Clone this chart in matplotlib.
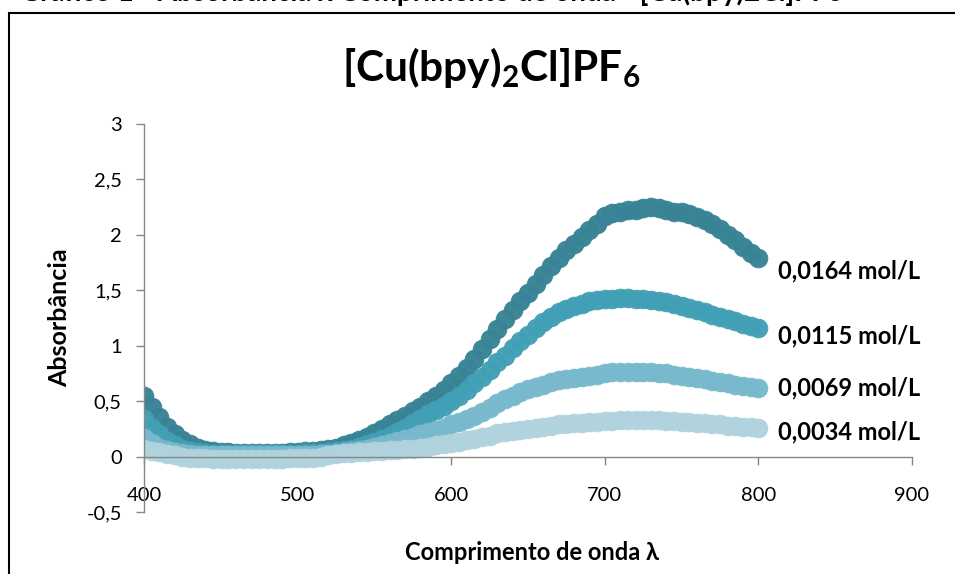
import matplotlib
matplotlib.use("Agg")
import matplotlib.pyplot as plt
from matplotlib.patches import Rectangle

plt.rcParams['font.family'] = ['Lato', 'DejaVu Sans']
plt.rcParams['mathtext.fontset'] = 'custom'
plt.rcParams['mathtext.rm'] = 'Lato'
plt.rcParams['mathtext.bf'] = 'Lato:bold'

# comprimento de onda (nm)
wavelength = [400, 405, 410, 415, 420, 425, 430, 435, 440, 445,
              450, 455, 460, 465, 470, 475, 480, 485, 490, 495,
              500, 505, 510, 515, 520, 525, 530, 535, 540, 545,
              550, 555, 560, 565, 570, 575, 580, 585, 590, 595,
              600, 605, 610, 615, 620, 625, 630, 635, 640, 645,
              650, 655, 660, 665, 670, 675, 680, 685, 690, 695,
              700, 705, 710, 715, 720, 725, 730, 735, 740, 745,
              750, 755, 760, 765, 770, 775, 780, 785, 790, 795, 800]

abs_0164 = [0.55, 0.45, 0.36, 0.27, 0.20, 0.15, 0.11, 0.08, 0.06, 0.05,
            0.04, 0.04, 0.03, 0.03, 0.03, 0.03, 0.03, 0.03, 0.03, 0.04,
            0.04, 0.05, 0.05, 0.06, 0.07, 0.08, 0.10, 0.12, 0.15, 0.18,
            0.21, 0.25, 0.29, 0.33, 0.37, 0.41, 0.45, 0.50, 0.55, 0.60,
            0.66, 0.73, 0.80, 0.88, 0.97, 1.06, 1.15, 1.24, 1.32, 1.40,
            1.48, 1.56, 1.64, 1.72, 1.79, 1.86, 1.92, 1.98, 2.04, 2.10,
            2.17, 2.20, 2.21, 2.22, 2.22, 2.24, 2.25, 2.24, 2.22, 2.21,
            2.21, 2.19, 2.16, 2.13, 2.10, 2.05, 2.00, 1.95, 1.89, 1.84, 1.79]

abs_0115 = [0.34, 0.26, 0.20, 0.14, 0.10, 0.07, 0.05, 0.04, 0.03, 0.02,
            0.02, 0.02, 0.02, 0.02, 0.02, 0.02, 0.02, 0.02, 0.02, 0.02,
            0.02, 0.03, 0.03, 0.03, 0.04, 0.05, 0.06, 0.07, 0.09, 0.11,
            0.13, 0.16, 0.19, 0.22, 0.26, 0.30, 0.34, 0.38, 0.42, 0.46,
            0.50, 0.55, 0.60, 0.66, 0.72, 0.78, 0.85, 0.91, 0.98, 1.04,
            1.10, 1.16, 1.21, 1.26, 1.30, 1.33, 1.36, 1.38, 1.40, 1.41,
            1.42, 1.42, 1.43, 1.43, 1.42, 1.42, 1.41, 1.40, 1.39, 1.38,
            1.36, 1.34, 1.32, 1.30, 1.28, 1.26, 1.24, 1.22, 1.20, 1.18, 1.16]

abs_0069 = [0.17, 0.12, 0.08, 0.06, 0.04, 0.03, 0.02, 0.01, 0.01, 0.01,
            0.01, 0.01, 0.01, 0.01, 0.01, 0.01, 0.01, 0.01, 0.01, 0.01,
            0.01, 0.01, 0.01, 0.02, 0.02, 0.03, 0.04, 0.05, 0.06, 0.07,
            0.09, 0.10, 0.12, 0.14, 0.16, 0.18, 0.20, 0.22, 0.24, 0.26,
            0.29, 0.31, 0.34, 0.37, 0.40, 0.44, 0.48, 0.52, 0.55, 0.58,
            0.61, 0.63, 0.65, 0.67, 0.69, 0.70, 0.71, 0.72, 0.73, 0.74,
            0.75, 0.76, 0.76, 0.76, 0.76, 0.76, 0.76, 0.75, 0.75, 0.74,
            0.73, 0.72, 0.71, 0.70, 0.68, 0.67, 0.66, 0.65, 0.64, 0.63, 0.62]

abs_0034 = [0.07, 0.05, 0.04, 0.02, 0.01, 0.00, -0.01, -0.01, -0.01, -0.02,
            -0.02, -0.02, -0.02, -0.02, -0.02, -0.02, -0.02, -0.02, -0.02, -0.01,
            -0.01, -0.01, -0.01, 0.00, 0.01, 0.02, 0.03, 0.03, 0.04, 0.04,
            0.05, 0.05, 0.06, 0.06, 0.07, 0.07, 0.08, 0.09, 0.10, 0.11,
            0.12, 0.13, 0.15, 0.16, 0.18, 0.19, 0.21, 0.22, 0.23, 0.24,
            0.25, 0.26, 0.27, 0.28, 0.29, 0.29, 0.30, 0.30, 0.31, 0.31,
            0.32, 0.32, 0.33, 0.33, 0.33, 0.33, 0.33, 0.33, 0.32, 0.32,
            0.31, 0.31, 0.30, 0.30, 0.29, 0.29, 0.28, 0.28, 0.27, 0.27, 0.26]

series = [abs_0164, abs_0115, abs_0069, abs_0034]
labels = ['0,0164 mol/L', '0,0115 mol/L', '0,0069 mol/L', '0,0034 mol/L']
colors = ['#388396', '#42A0B6', '#78B9CD', '#B0D3DE']
label_offsets = [-9, -6, 0, -3]

fig = plt.figure(figsize=(9.55, 5.74), dpi=100)
ax = fig.add_axes([144 / 955, 1 - 512 / 574, 768 / 955, 388 / 574])

# moldura do gráfico (cortada na imagem)
fig.patches.append(Rectangle((9 / 955, -0.1), 1.2, 1 - 13 / 574 + 0.1,
                             transform=fig.transFigure, fill=False,
                             edgecolor='black', linewidth=1.5))

# legenda do documento, cortada no topo
fig.text(20 / 955, 1 - 1 / 574,
         'Gráfico 1 - Absorbância x Comprimento de onda - [Cu(bpy)2Cl]PF6',
         fontsize=20, fontweight='bold', va='baseline', ha='left')

for vals, col in zip(series, colors):
    ax.plot(wavelength, vals, linestyle='none', marker='o', markersize=13.5,
            markerfacecolor=col, markeredgecolor=col, markeredgewidth=0.6,
            alpha=0.97)

for vals, lab, dy in zip(series, labels, label_offsets):
    ax.annotate(lab, xy=(wavelength[-1], vals[-1]), xytext=(14, dy),
                textcoords='offset points', va='center', ha='left',
                fontsize=17, fontweight='bold', color='black')

ax.set_xlim(400, 900)
ax.set_ylim(-0.5, 3)
ax.set_xticks([400, 500, 600, 700, 800, 900])
ax.set_yticks([-0.5, 0, 0.5, 1, 1.5, 2, 2.5, 3])
ax.set_yticklabels(['-0,5', '0', '0,5', '1', '1,5', '2', '2,5', '3'])

for s in ['top', 'right']:
    ax.spines[s].set_visible(False)
ax.spines['bottom'].set_position(('data', 0))
ax.spines['left'].set_color('#878787')
ax.spines['bottom'].set_color('#878787')
ax.spines['left'].set_linewidth(1.0)
ax.spines['bottom'].set_linewidth(1.0)
ax.tick_params(axis='both', direction='out', length=6, width=1.0,
               color='#878787', labelsize=14.5)
ax.tick_params(axis='x', pad=16)
ax.tick_params(axis='y', pad=10)

fig.text(491 / 955, 1 - 68 / 574, '[Cu(bpy)$_\\mathbf{2}$Cl]PF$_\\mathbf{6}$',
         fontsize=30.5, fontweight='bold', ha='center', va='center')
ax.set_ylabel('Absorbância', fontsize=18, fontweight='bold', labelpad=11)
fig.text(532 / 955, 1 - 553 / 574, 'Comprimento de onda λ', fontsize=17,
         fontweight='bold', ha='center', va='center')

fig.savefig('out.png', dpi=100, facecolor='white')
